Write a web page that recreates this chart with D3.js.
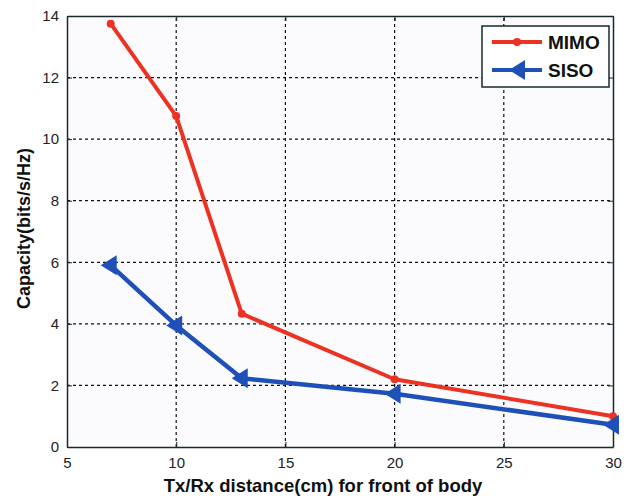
<!DOCTYPE html>
<html>
<head>
  <meta charset="utf-8">
  <style>
    body { margin: 0; background: #ffffff; }
    svg { display: block; font-family: 'Liberation Sans', Arial, sans-serif; }
    .grid line { stroke: #111; stroke-width: 1.2; stroke-dasharray: 3,3; }
    .axis text { font-size: 15px; fill: #222; }
    .axis path, .axis line { stroke: #1a2a2a; }
  </style>
</head>
<body>
  <div id="chart"></div>
  <script src="https://d3js.org/d3.v7.min.js"></script>
  <script>
    var distances = [7, 10, 13, 20, 30];
    var mimo = [13.75, 10.75, 4.33, 2.2, 1.0];
    var siso = [5.9, 3.95, 2.23, 1.73, 0.72];
    var xTicks = [5, 10, 15, 20, 25, 30];
    var yTicks = [0, 2, 4, 6, 8, 10, 12, 14];

    var width = 634,
      height = 499;
    var margin = { top: 16, right: 20, bottom: 52, left: 67 };

    var colors = { mimo: '#ec3323', siso: '#1e50b8' };

    var svg = d3.select('#chart').append('svg')
      .attr('width', width)
      .attr('height', height);

    var x = d3.scaleLinear().domain([5, 30]).range([margin.left, width - margin.right - 1]);
    var y = d3.scaleLinear().domain([0, 14]).range([height - margin.bottom, margin.top]);

    // plot background
    svg.append('rect')
      .attr('x', x(5)).attr('y', y(14))
      .attr('width', x(30) - x(5)).attr('height', y(0) - y(14))
      .attr('fill', '#fbfbfe');

    // dotted grid
    var grid = svg.append('g').attr('class', 'grid');
    grid.selectAll('.gx')
      .data(xTicks.slice(1, -1))
      .enter().append('line')
      .attr('x1', d => x(d)).attr('x2', d => x(d))
      .attr('y1', y(0)).attr('y2', y(14));
    grid.selectAll('.gy')
      .data(yTicks.slice(1, -1))
      .enter().append('line')
      .attr('x1', x(5)).attr('x2', x(30))
      .attr('y1', d => y(d)).attr('y2', d => y(d));

    // axes with inward ticks
    svg.append('g')
      .attr('class', 'axis')
      .attr('transform', 'translate(0,' + y(0) + ')')
      .call(d3.axisBottom(x).tickValues(xTicks).tickSizeInner(-5).tickSizeOuter(0).tickPadding(10));
    svg.append('g')
      .attr('class', 'axis')
      .attr('transform', 'translate(' + x(5) + ',0)')
      .call(d3.axisLeft(y).tickValues(yTicks).tickSizeInner(-5).tickSizeOuter(0).tickPadding(8));
    svg.append('g')
      .attr('class', 'axis')
      .attr('transform', 'translate(0,' + y(14) + ')')
      .call(d3.axisTop(x).tickValues(xTicks).tickSizeInner(-5).tickSizeOuter(0).tickFormat(''));
    svg.append('g')
      .attr('class', 'axis')
      .attr('transform', 'translate(' + x(30) + ',0)')
      .call(d3.axisRight(y).tickValues(yTicks).tickSizeInner(-5).tickSizeOuter(0).tickFormat(''));
    svg.selectAll('.axis path').attr('stroke-width', 1.5);

    // series
    var line = d3.line()
      .x((d, i) => x(distances[i]))
      .y(d => y(d));

    svg.append('path')
      .datum(mimo)
      .attr('d', line)
      .attr('fill', 'none')
      .attr('stroke', colors.mimo)
      .attr('stroke-width', 4)
      .attr('stroke-linejoin', 'round');

    svg.selectAll('.mimo-pt')
      .data(mimo)
      .enter().append('circle')
      .attr('cx', (d, i) => x(distances[i]))
      .attr('cy', d => y(d))
      .attr('r', 4)
      .attr('fill', colors.mimo);

    svg.append('path')
      .datum(siso)
      .attr('d', line)
      .attr('fill', 'none')
      .attr('stroke', colors.siso)
      .attr('stroke-width', 4.5)
      .attr('stroke-linejoin', 'round');

    // left-pointing triangle markers
    var tri = 'M-10,0 L6,-10 L6,10 Z';
    svg.selectAll('.siso-pt')
      .data(siso)
      .enter().append('path')
      .attr('d', tri)
      .attr('transform', (d, i) => 'translate(' + x(distances[i]) + ',' + y(d) + ')')
      .attr('fill', colors.siso);

    // axis titles
    svg.append('text')
      .attr('x', (x(5) + x(30)) / 2 - 17)
      .attr('y', 492)
      .attr('text-anchor', 'middle')
      .attr('font-size', '18.5px')
      .attr('font-weight', 'bold')
      .attr('fill', '#111')
      .text('Tx/Rx distance(cm) for front of body');

    svg.append('text')
      .attr('transform', 'translate(30,' + ((y(0) + y(14)) / 2 - 3) + ') rotate(-90)')
      .attr('text-anchor', 'middle')
      .attr('font-size', '18px')
      .attr('font-weight', 'bold')
      .attr('fill', '#111')
      .text('Capacity(bits/s/Hz)');

    // legend
    var legendItems = [
      { name: 'MIMO', color: colors.mimo, marker: 'dot' },
      { name: 'SISO', color: colors.siso, marker: 'tri' }
    ];
    var lg = svg.append('g').attr('transform', 'translate(482,26)');
    lg.append('rect')
      .attr('width', 127).attr('height', 61)
      .attr('fill', '#fff')
      .attr('stroke', '#1a2a2a')
      .attr('stroke-width', 1.5);
    var li = lg.selectAll('g')
      .data(legendItems)
      .enter().append('g')
      .attr('transform', (d, i) => 'translate(0,' + (16 + i * 28) + ')');
    li.append('line')
      .attr('x1', 10).attr('x2', 60)
      .attr('stroke', d => d.color)
      .attr('stroke-width', 4);
    li.filter(d => d.marker === 'dot').append('circle')
      .attr('cx', 35).attr('r', 4).attr('fill', d => d.color);
    li.filter(d => d.marker === 'tri').append('path')
      .attr('d', tri)
      .attr('transform', 'translate(37,0)')
      .attr('fill', d => d.color);
    li.append('text')
      .attr('x', 66).attr('y', 7)
      .attr('font-size', '19px')
      .attr('font-weight', 'bold')
      .attr('fill', '#111')
      .text(d => d.name);
  </script>
</body>
</html>
